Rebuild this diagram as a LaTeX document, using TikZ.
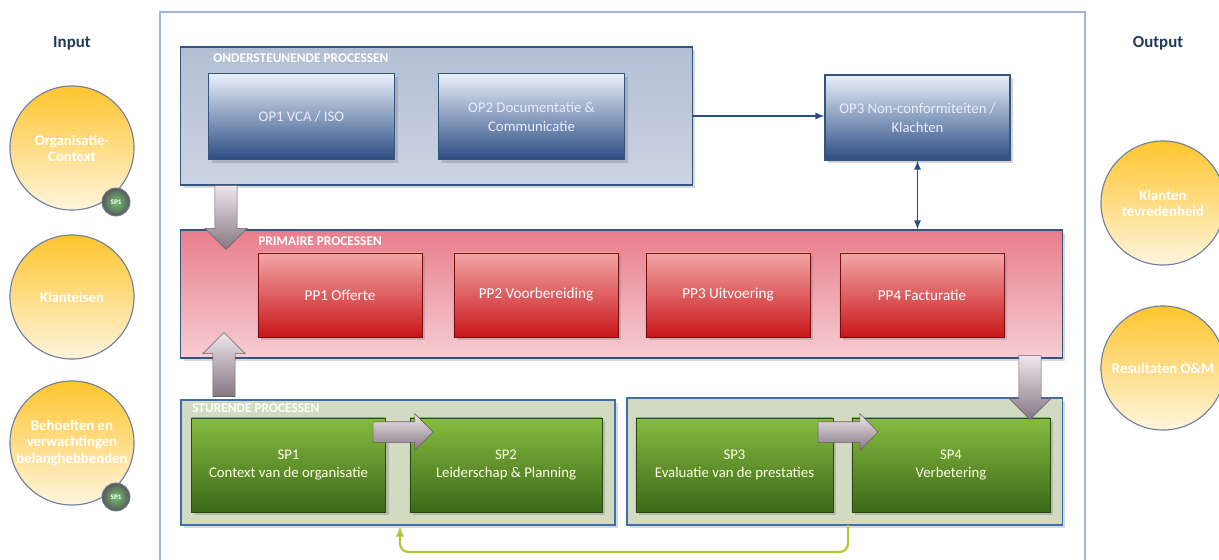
\documentclass[tikz,border=0pt]{standalone}
\usepackage{fontspec}
\setmainfont{Carlito}
\usetikzlibrary{positioning,shapes.arrows,shadows}

\definecolor{navy}{HTML}{1F3A5C}
\definecolor{framecol}{HTML}{9DB8D8}
\definecolor{opedge}{HTML}{34557F}
\definecolor{opdark}{HTML}{2B4C82}
\definecolor{oplight}{HTML}{EAF0FA}
\definecolor{ondertop}{HTML}{B2BED2}
\definecolor{onderbot}{HTML}{CCD4E2}
\definecolor{primtop}{HTML}{E97E8C}
\definecolor{primbot}{HTML}{F6CDD3}
\definecolor{ppdark}{HTML}{C8161A}
\definecolor{pplight}{HTML}{F2A6A6}
\definecolor{spdark}{HTML}{3C6818}
\definecolor{splight}{HTML}{86BC40}
\definecolor{sage}{HTML}{D3DAC2}
\definecolor{sturedge}{HTML}{3F6FA8}
\definecolor{circtop}{HTML}{FFC52E}
\definecolor{circbot}{HTML}{FFF5DE}
\definecolor{circedge}{HTML}{6F7FA0}
\definecolor{arlight}{HTML}{EFE6EC}
\definecolor{ardark}{HTML}{857782}
\definecolor{feedcol}{HTML}{B7C53A}

\begin{document}
\begin{tikzpicture}[x=0.025cm,y=-0.025cm,
  >=latex,
  title/.style={font=\bfseries\fontsize{12}{14}\selectfont, text=navy},
  hdr/.style={font=\bfseries\fontsize{9.5}{10}\selectfont, text=white, anchor=west, inner sep=0pt},
  container/.style={draw=opedge, line width=0.8pt},
  opbox/.style={draw=opedge, line width=0.8pt, top color=oplight, bottom color=opdark,
    text=white!92!blue, align=center, font=\fontsize{10.5}{13.5}\selectfont,
    minimum width=4.65cm, minimum height=2.15cm, drop shadow={opacity=0.35}},
  ppbox/.style={draw=ppdark!60!black, line width=0.6pt, top color=pplight, bottom color=ppdark,
    text=white, align=center, font=\fontsize{10.8}{13}\selectfont,
    minimum width=4.1cm, minimum height=2.1cm, drop shadow={opacity=0.35}},
  spbox/.style={draw=spdark!70!black, line width=0.6pt, top color=splight, bottom color=spdark,
    text=white!90!yellow, align=center, font=\fontsize{10.5}{12.5}\selectfont,
    minimum width=4.85cm, minimum height=2.35cm, drop shadow={opacity=0.35}},
  circ/.style={circle, draw=circedge, line width=0.8pt, top color=circtop, bottom color=circbot,
    text=white, align=center, font=\bfseries\fontsize{10.5}{11.5}\selectfont, minimum size=3.1cm, inner sep=0pt},
  spdot/.style={circle, draw=circedge, line width=0.6pt, inner color=gray!60!green!80!white,
    outer color=gray!70!black, text=white, font=\bfseries\fontsize{5}{6}\selectfont, minimum size=0.7cm, inner sep=0pt},
  blockarrow/.style={single arrow, draw=ardark!80!black, line width=0.4pt, top color=arlight,
    bottom color=ardark, inner xsep=0pt, inner ysep=0.27cm,
    single arrow head extend=0.25cm, minimum height=1.6cm},
  feedback/.style={draw=feedcol, line width=1.6pt, rounded corners=6pt, ->}]

\useasboundingbox (0,0) rectangle (1219,560);

\node[title] (input) at (72,43) {Input};
\node[title] (output) at (1158,43) {Output};

\draw[framecol, line width=1pt] (160,570) -- (160,12) -- (1085,12) -- (1085,570);

% inputs
\node[circ] (in1) at (72,148) {Organisatie-\\Context};
\node[circ] (in2) at (72,297) {Klanteisen};
\node[circ] (in3) at (72,443) {Behoeften en\\verwachtingen\\belanghebbenden};
\node[spdot] (in1sp) at (116,202) {SP1};
\node[spdot] (in3sp) at (116,497) {SP1};

% outputs
\node[circ] (out1) at (1163,203) {Klanten\\tevredenheid};
\node[circ] (out2) at (1163,368) {Resultaten O\&M};

% ondersteunende processen
\node[container, minimum width=12.775cm, minimum height=3.45cm,
  top color=ondertop, bottom color=onderbot,
  drop shadow={opacity=0.3}] (onder) at (436.5,116) {};
\node[hdr] (onderlbl) at (213,58) {ONDERSTEUNENDE PROCESSEN};
\node[opbox] (op1) at (301.5,116.5) {OP1 VCA / ISO};
\node[opbox] (op2) at (531.5,116.5) {OP2 Documentatie \&\\Communicatie};
\node[opbox, minimum width=4.625cm, minimum height=2.125cm] (op3) at (917.5,117.5) {OP3 Non-conformiteiten /\\Klachten};

% primaire processen
\node[container, minimum width=22.025cm, minimum height=3.2cm,
  top color=primtop, bottom color=primbot,
  drop shadow={opacity=0.3}] (prim) at (621.5,294) {};
\node[hdr] (primlbl) at (258,241) {PRIMAIRE PROCESSEN};
\node[ppbox] (pp1) at (340,295) {PP1 Offerte};
\node[ppbox] (pp2) at (536,295) {PP2 Voorbereiding};
\node[ppbox] (pp3) at (728,295) {PP3 Uitvoering};
\node[ppbox] (pp4) at (922,295) {PP4 Facturatie};

% sturende processen
\node[container, draw=sturedge, fill=sage, minimum width=10.85cm, minimum height=3.125cm,
  drop shadow={opacity=0.3}] (stur1) at (398,462.5) {};
\node[container, draw=sturedge, fill=sage, minimum width=10.875cm, minimum height=3.175cm,
  drop shadow={opacity=0.3}] (stur2) at (844.5,461.5) {};
\node[hdr] (sturlbl) at (192,408) {STURENDE PROCESSEN};
\node[spbox] (sp1) at (288.5,465) {SP1\\Context van de organisatie};
\node[spbox, minimum width=4.8cm] (sp2) at (506,465) {SP2\\Leiderschap \& Planning};
\node[spbox, minimum width=4.925cm] (sp3) at (734.5,465) {SP3\\Evaluatie van de prestaties};
\node[spbox, minimum width=4.95cm] (sp4) at (951,465) {SP4\\Verbetering};

% block arrows
\node[blockarrow, rotate=-90] (ardown1) at (226,212) {};
\node[blockarrow, rotate=90] (arup1) at (224,370) {};
\node[blockarrow, rotate=-90] (ardown2) at (1030,382) {};
\node[blockarrow, minimum height=1.5cm, inner ysep=0.25cm, single arrow head extend=0.2cm] (arright1) at (398,432) {};
\node[blockarrow, minimum height=1.5cm, inner ysep=0.25cm, single arrow head extend=0.2cm] (arright2) at (843,432) {};

% connectors
\draw[->, opdark, line width=1.2pt] (onder.east) -- (onder.east -| op3.west);
\draw[<->, opdark, line width=1.2pt] (op3.south) -- (op3.south |- prim.north);

\coordinate (fbstart) at (848,525);
\coordinate (fbend) at (400,526);
\draw[feedback] (fbstart) -- ++(0,27) -| (fbend);

\end{tikzpicture}
\end{document}
